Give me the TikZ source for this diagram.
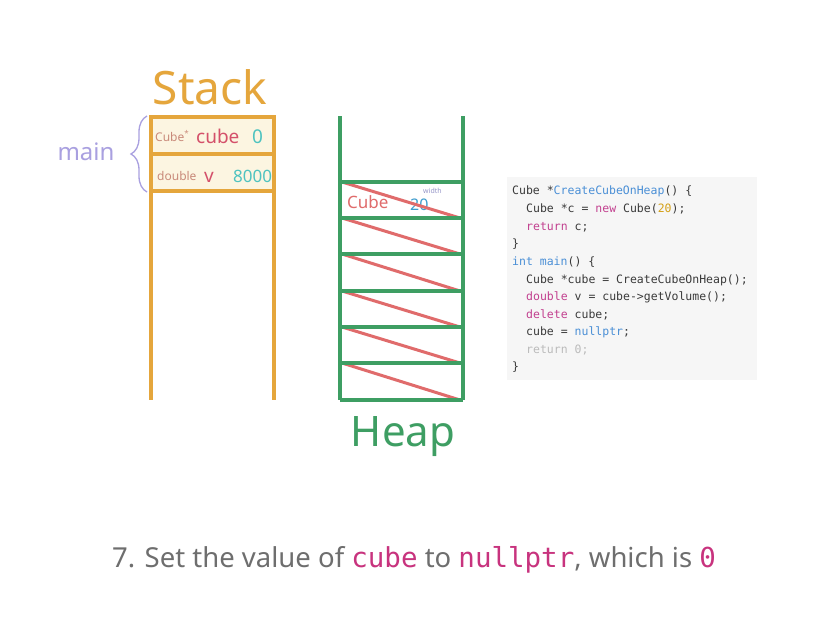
\documentclass[tikz,border=0pt]{standalone}
\usepackage{fontspec}
\setmainfont{Noto Sans}
\setmonofont{DejaVu Sans Mono}
\usetikzlibrary{positioning, decorations.pathreplacing}

\definecolor{stackorange}{HTML}{E5A63C}
\definecolor{stackfill}{HTML}{FCF5E1}
\definecolor{heapgreen}{HTML}{3E9E63}
\definecolor{heapred}{HTML}{E06B6B}
\definecolor{bracepurple}{HTML}{A9A0E0}
\definecolor{typebrown}{HTML}{C98A7A}
\definecolor{namepink}{HTML}{D4506A}
\definecolor{valcyan}{HTML}{4EC3C0}
\definecolor{codebg}{HTML}{F6F6F6}
\definecolor{codetext}{HTML}{3A3A3A}
\definecolor{codekw}{HTML}{C2408F}
\definecolor{codefn}{HTML}{4A8FD6}
\definecolor{codenum}{HTML}{D4A017}
\definecolor{codegrey}{HTML}{BBBBBB}
\definecolor{captext}{HTML}{6E6E6E}
\definecolor{capcode}{HTML}{C8337E}

\newcommand{\fsz}[1]{\fontsize{#1}{#1}\selectfont}

\begin{document}
\begin{tikzpicture}[x=1pt, y=-1pt,
    stackcell/.style={rectangle, draw=stackorange, line width=3.5pt, fill=stackfill, minimum width=123pt, minimum height=37pt, inner sep=0pt, outer sep=0pt},
    stackwall/.style={draw=stackorange, line width=3.5pt},
    heapwall/.style={draw=heapgreen, line width=3.5pt},
    slash/.style={draw=heapred, line width=3pt},
    label/.style={anchor=base west, inner sep=0pt},
    codeline/.style={anchor=base west, inner sep=0pt, text=codetext, font=\ttfamily\fsz{11.5}}
]
    \useasboundingbox[fill=white] (0,0) rectangle (828,630);

    % stack
    \node[stackcell] (cubecell) at (212.5,135.5) {};
    \node[stackcell, below=0pt of cubecell] (vcell) {};
    \coordinate (stackbl) at (151,400);
    \coordinate (stackbr) at (274,400);
    \draw[stackwall] (vcell.south west) -- (stackbl);
    \draw[stackwall] (vcell.south east) -- (stackbr);
    \node[text=stackorange, font=\fsz{46}, anchor=base] (stacktitle) at (210,104) {Stack};

    \node[label, text=typebrown, font=\fsz{12}] (cubetype) at (155,141) {Cube\textsuperscript{*}};
    \node[label, text=namepink, font=\bfseries\fsz{19}] (cubename) at (196,143) {cube};
    \node[label, text=valcyan, font=\fsz{19}] (cubeval) at (252,143) {0};
    \node[label, text=typebrown, font=\fsz{12}] (vtype) at (157,180) {double};
    \node[label, text=namepink, font=\fsz{19}] (vname) at (204,182) {v};
    \node[label, text=valcyan, font=\fsz{17}] (vval) at (233,182) {8000};

    \draw[bracepurple, line width=1.3pt, decorate, decoration={brace, amplitude=16pt}]
        (147,192) -- (147,116);
    \node[text=bracepurple, font=\fsz{24}, anchor=base] (mainlabel) at (86,160) {main};

    % heap
    \coordinate (heaptl) at (340,116);
    \coordinate (heaptr) at (463,116);
    \coordinate (heapbl) at (340,400);
    \coordinate (heapbr) at (463,400);
    \draw[heapwall] (heaptl) -- (heapbl);
    \draw[heapwall] (heaptr) -- (heapbr);
    \node[label, text=heapred, font=\fsz{17}] (heaptype) at (347,208) {Cube};
    \node[label, text=codegrey!80!blue, font=\fsz{7}] (heapfield) at (423,193) {width};
    \node[label, text=valcyan!80!blue, font=\fsz{16}] (heapval) at (410,210) {20};
    \foreach \ya/\yb in {182/218, 218/254, 254/291, 291/327, 327/363, 363/400} {
        \draw[slash] (342,\ya) -- (460,\yb);
    }
    \foreach \y in {182, 218, 254, 291, 327, 363, 400} {
        \draw[heapwall] (340,\y) -- (463,\y);
    }
    \node[text=heapgreen, font=\fsz{42}, anchor=base] (heaptitle) at (403,446) {Heap};

    % code
    \node[fill=codebg, minimum width=250pt, minimum height=203pt, inner sep=0pt] (codebox) at (632,278.5) {};
    \node[codeline] (c1) at (512,194) {Cube *\textcolor{codefn}{CreateCubeOnHeap}() \{};
    \node[codeline] (c2) at (526,212) {Cube *c = \textcolor{codekw}{new} Cube(\textcolor{codenum}{20});};
    \node[codeline] (c3) at (526,230) {\textcolor{codekw}{return} c;};
    \node[codeline] (c4) at (512,247) {\}};
    \node[codeline] (c5) at (512,265) {\textcolor{codefn}{int} \textcolor{codefn}{main}() \{};
    \node[codeline] (c6) at (526,283) {Cube *cube = CreateCubeOnHeap();};
    \node[codeline] (c7) at (526,300) {\textcolor{codekw}{double} v = cube->getVolume();};
    \node[codeline] (c8) at (526,318) {\textcolor{codekw}{delete} cube;};
    \node[codeline] (c9) at (526,335) {cube = \textcolor{codefn}{nullptr};};
    \node[codeline] (c10) at (526,353) {\textcolor{codegrey}{return 0;}};
    \node[codeline] (c11) at (512,370) {\}};

    % caption
    \node[anchor=base, text=captext, font=\fsz{27.5}] (caption) at (414,567)
        {7. Set the value of \textcolor{capcode}{\texttt{cube}} to \textcolor{capcode}{\texttt{nullptr}}, which is \textcolor{capcode}{\texttt{0}}};
\end{tikzpicture}
\end{document}
